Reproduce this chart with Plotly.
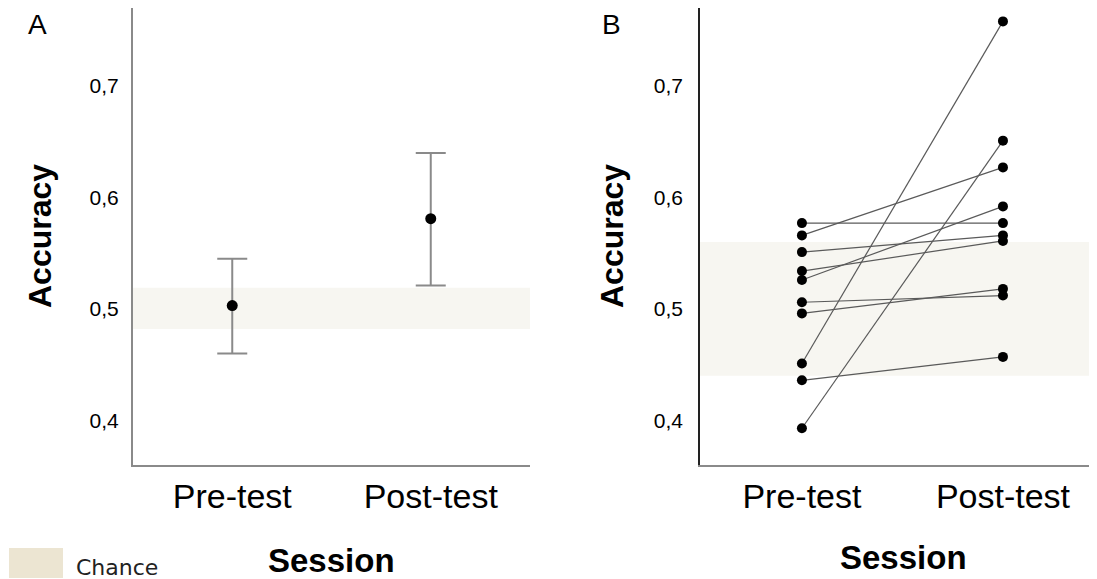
import plotly.graph_objects as go

# ---- data ----
sessions = ["Pre-test", "Post-test"]
mean_acc = [0.503, 0.581]
ci_upper = [0.545, 0.640]
ci_lower = [0.460, 0.521]
chance_a = [0.482, 0.519]

pre_acc = [0.577, 0.566, 0.551, 0.534, 0.526, 0.506, 0.496, 0.451, 0.436, 0.393]
post_acc = [0.577, 0.627, 0.566, 0.561, 0.592, 0.512, 0.518, 0.758, 0.457, 0.651]
chance_b = [0.440, 0.560]

yticks = [0.4, 0.5, 0.6, 0.7]
ytick_text = ["0,4", "0,5", "0,6", "0,7"]

# page body has an 8px margin: figure origin sits at page (8, 8)
OFF = 8
W, H = 1097 - 2 * OFF, 579 - OFF
def px_x(p): return (p - OFF) / W
def px_y(p): return 1 - (p - OFF) / H

fig = go.Figure()

# Panel A: means with error bars
fig.add_trace(go.Scatter(
    x=sessions, y=mean_acc, mode="markers",
    marker=dict(color="black", size=11),
    error_y=dict(type="data", symmetric=False,
                 array=[u - m for u, m in zip(ci_upper, mean_acc)],
                 arrayminus=[m - l for m, l in zip(mean_acc, ci_lower)],
                 color="#8a8a8a", thickness=2, width=15),
    xaxis="x", yaxis="y", showlegend=False, hoverinfo="skip"))

# Panel B: individual lines
for a, b in zip(pre_acc, post_acc):
    fig.add_trace(go.Scatter(
        x=sessions, y=[a, b], mode="lines+markers",
        line=dict(color="#5a5a5a", width=1.2),
        marker=dict(color="black", size=10),
        xaxis="x2", yaxis="y2", showlegend=False, hoverinfo="skip"))

ydom = [px_y(465), px_y(8)]
yrange = [0.36, 0.77]
common_y = dict(range=yrange, tickvals=yticks, ticktext=ytick_text,
                showgrid=False, zeroline=False, ticks="",
                tickfont=dict(family="Liberation Sans", size=21, color="black"),
                domain=ydom, fixedrange=True)
common_x = dict(showgrid=False, zeroline=False, ticks="",
                tickfont=dict(family="Liberation Sans", size=34, color="black"),
                fixedrange=True)

def ann(text, x, y, size, bold=False, angle=0, xanchor="center", family="Liberation Sans", color="black"):
    return dict(text=f"<b>{text}</b>" if bold else text, x=px_x(x), y=px_y(y),
                xref="paper", yref="paper", xanchor=xanchor, yanchor="middle",
                textangle=angle, showarrow=False,
                font=dict(family=family, size=size, color=color))

fig.update_layout(
    width=W, height=H,
    margin=dict(l=0, r=0, t=0, b=0),
    paper_bgcolor="white", plot_bgcolor="rgba(0,0,0,0)",
    xaxis=dict(domain=[px_x(133), px_x(530)], anchor="y", range=[-0.5, 1.5],
               showline=True, linecolor="#8a8a8a", linewidth=2, **common_x),
    yaxis=dict(anchor="x", showline=True, linecolor="#8a8a8a", linewidth=2,
               ticklabelstandoff=8, **common_y),
    xaxis2=dict(domain=[px_x(700), 1.0], anchor="y2", range=[-0.507, 1.428],
                showline=True, linecolor="#8a8a8a", linewidth=2, **common_x),
    yaxis2=dict(anchor="x2", showline=True, linecolor="#222222", linewidth=1.5,
                ticklabelstandoff=11, **common_y),
    shapes=[
        dict(type="rect", xref="x domain", yref="y", x0=0, x1=1,
             y0=chance_a[0], y1=chance_a[1], fillcolor="#f7f6f1",
             line=dict(width=0), layer="below"),
        dict(type="rect", xref="x2 domain", yref="y2", x0=0, x1=1,
             y0=chance_b[0], y1=chance_b[1], fillcolor="#f7f6f1",
             line=dict(width=0), layer="below"),
        dict(type="rect", xref="paper", yref="paper",
             x0=px_x(9), x1=px_x(63), y0=px_y(578), y1=px_y(548),
             fillcolor="#ece5d2", line=dict(width=0)),
    ],
    annotations=[
        ann("A", 38, 24, 28),
        ann("B", 611, 24, 28),
        ann("Accuracy", 40, 236, 32, bold=True, angle=-90),
        ann("Accuracy", 612, 236, 32, bold=True, angle=-90),
        ann("Session", 331, 560, 33, bold=True),
        ann("Session", 903, 557, 33, bold=True),
        ann("Chance", 74, 567, 22, xanchor="left", family="DejaVu Sans", color="#222222"),
    ],
)

fig.write_html("out.html")
